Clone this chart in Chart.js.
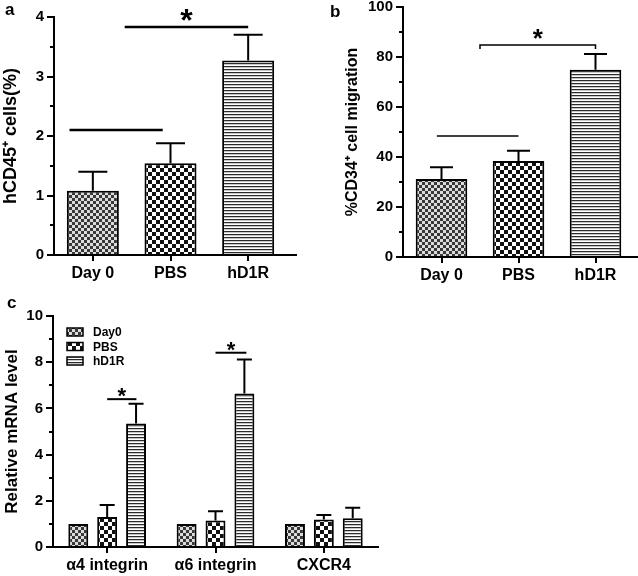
<!DOCTYPE html>
<html>
<head>
<meta charset="utf-8">
<script src="https://cdn.jsdelivr.net/npm/chart.js@4.4.0/dist/chart.umd.min.js"></script>
<style>
body{margin:0;background:#fff;width:638px;height:576px;position:relative;overflow:hidden}
canvas{position:absolute}
</style>
</head>
<body>
<canvas id="chartA" width="300" height="290" style="left:0;top:0"></canvas>
<canvas id="chartB" width="318" height="300" style="left:320px;top:-10px"></canvas>
<canvas id="chartC" width="390" height="286" style="left:0;top:290px"></canvas>
<script>
var groups = ['Day 0', 'PBS', 'hD1R'];
var cellsA = [1.08, 1.54, 3.27];
var cellsAErr = [0.32, 0.34, 0.43];
var migrB = [31.2, 38.4, 74.9];
var migrBErr = [4.7, 4.1, 6.3];

var genes = ['α4 integrin', 'α6 integrin', 'CXCR4'];
var seriesC = ['Day0', 'PBS', 'hD1R'];
var day0C = [1.0, 1.0, 1.0];
var day0CErr = [0, 0, 0];
var pbsC = [1.30, 1.15, 1.19];
var pbsCErr = [0.52, 0.40, 0.20];
var hd1rC = [5.35, 6.65, 1.24];
var hd1rCErr = [0.85, 1.47, 0.46];

// significance marks: [from category, to category, y value, star?, bracket?]
var sigA = [[0.41, 2.0, 3.83, 1, 0], [-0.3, 0.9, 2.1, 0, 0]];
var sigB = [[0.5, 2.0, 84.8, 1, 1], [-0.06, 1.0, 48.4, 0, 0]];
var sigC = [[0, 0.27, 6.4, 1, 0], [1, 1.285, 8.41, 1, 0]];

Chart.defaults.font.family = '"Liberation Sans", Arial, sans-serif';
Chart.defaults.font.weight = 'bold';
Chart.defaults.color = '#000';

function makePattern(kind) {
	var c = document.createElement('canvas');
	var g = c.getContext('2d');
	if (kind == 'fine') {
		c.width = 6; c.height = 6;
		g.fillStyle = '#dcdcdc'; g.fillRect(0, 0, 6, 6);
		g.fillStyle = '#383838'; g.fillRect(0, 0, 3, 3); g.fillRect(3, 3, 3, 3);
	} else if (kind == 'check') {
		c.width = 8; c.height = 8;
		g.fillStyle = '#fff'; g.fillRect(0, 0, 8, 8);
		g.fillStyle = '#111'; g.fillRect(0, 0, 4, 4); g.fillRect(4, 4, 4, 4);
	} else {
		c.width = 4; c.height = 3;
		g.fillStyle = '#fff'; g.fillRect(0, 0, 4, 3);
		g.fillStyle = '#2a2a2a'; g.fillRect(0, 0, 4, 1);
		g.fillStyle = '#c8c8c8'; g.fillRect(0, 1, 4, 1);
	}
	return g.createPattern(c, 'repeat');
}
var fills = [makePattern('fine'), makePattern('check'), makePattern('lines')];

var extras = {
	id: 'extras',
	afterDraw: function(chart, args, o) {
		var ctx = chart.ctx, x = chart.scales.x, y = chart.scales.y, area = chart.chartArea;
		var step = x.getPixelForValue(1) - x.getPixelForValue(0);
		function catX(f) { return x.getPixelForValue(0) + f * step; }
		ctx.save();
		ctx.strokeStyle = '#000';
		ctx.fillStyle = '#000';
		ctx.lineWidth = 2;
		// error bars
		chart.data.datasets.forEach(function(ds, d) {
			var meta = chart.getDatasetMeta(d);
			ds.err.forEach(function(e, i) {
				if (!e) return;
				var bar = meta.data[i];
				var top = y.getPixelForValue(ds.data[i] + e);
				ctx.beginPath();
				ctx.moveTo(bar.x, bar.y);
				ctx.lineTo(bar.x, top);
				ctx.moveTo(bar.x - o.cap / 2, top);
				ctx.lineTo(bar.x + o.cap / 2, top);
				ctx.stroke();
			});
		});
		// minor ticks
		for (var v = o.minor; v < y.max; v += o.minor * 2) {
			var py = Math.round(y.getPixelForValue(v));
			ctx.beginPath();
			ctx.moveTo(area.left - 4, py);
			ctx.lineTo(area.left, py);
			ctx.stroke();
		}
		// x axis runs a little further than the last category
		if (o.axisTo) {
			var y0 = y.getPixelForValue(0);
			ctx.beginPath();
			ctx.moveTo(area.right - 1, y0);
			ctx.lineTo(o.axisTo, y0);
			ctx.stroke();
		}
		// significance lines
		ctx.lineWidth = o.sigWidth;
		o.sig.forEach(function(s) {
			var x1 = catX(s[0]), x2 = catX(s[1]), yy = y.getPixelForValue(s[2]);
			ctx.beginPath();
			if (s[4]) {
				ctx.moveTo(x1, yy + 4);
				ctx.lineTo(x1, yy);
				ctx.lineTo(x2, yy);
				ctx.lineTo(x2, yy + 4);
			} else {
				ctx.moveTo(x1, yy);
				ctx.lineTo(x2, yy);
			}
			ctx.stroke();
			if (s[3]) {
				ctx.font = 'bold ' + o.starSize + 'px "Liberation Sans", Arial, sans-serif';
				ctx.textAlign = 'center';
				ctx.textBaseline = 'alphabetic';
				ctx.fillText('*', (x1 + x2) / 2, yy + o.starDy);
			}
		});
		// legend
		if (o.legend) {
			ctx.lineWidth = 1.5;
			ctx.font = 'bold 12px "Liberation Sans", Arial, sans-serif';
			ctx.textAlign = 'left';
			ctx.textBaseline = 'middle';
			chart.data.datasets.forEach(function(ds, d) {
				var ly = o.legend.y + d * o.legend.gap;
				ctx.fillStyle = ds.backgroundColor;
				ctx.fillRect(o.legend.x, ly - 4, 16, 8);
				ctx.strokeRect(o.legend.x, ly - 4, 16, 8);
				ctx.fillStyle = '#000';
				ctx.fillText(ds.label, o.legend.x + 26, ly + 1);
			});
		}
		// panel letter
		ctx.font = 'bold 17px "Liberation Sans", Arial, sans-serif';
		ctx.textAlign = 'left';
		ctx.textBaseline = 'alphabetic';
		ctx.fillStyle = '#000';
		ctx.fillText(o.letter[0], o.letter[1], o.letter[2]);
		ctx.restore();
	}
};

function barChart(id, labels, datasets, s) {
	return new Chart(document.getElementById(id), {
		type: 'bar',
		data: { labels: labels, datasets: datasets },
		options: {
			responsive: false,
			animation: false,
			devicePixelRatio: 1,
			layout: { padding: s.padding },
			datasets: { bar: { barPercentage: s.barPct, categoryPercentage: s.catPct, borderColor: '#000', borderWidth: 2 } },
			plugins: { legend: { display: false }, tooltip: { enabled: false }, extras: s.extras },
			scales: {
				x: {
					grid: { display: true, drawOnChartArea: false, drawTicks: true, offset: false, tickLength: 6, color: '#000', lineWidth: 2 },
					border: { display: true, color: '#000', width: 2 },
					ticks: { font: { size: 16, weight: 'bold' }, color: '#000', padding: 3, maxRotation: 0, autoSkip: false },
					afterFit: function(sc) { sc.height = s.axisH; }
				},
				y: {
					min: 0, max: s.yMax,
					grid: { display: true, drawOnChartArea: false, drawTicks: true, tickLength: 7, color: '#000', lineWidth: 2 },
					border: { display: true, color: '#000', width: 2 },
					ticks: { stepSize: s.step, font: { size: 15, weight: 'bold' }, color: '#000', padding: 3 },
					title: { display: true, text: s.title, font: { size: s.titleSize, weight: 'bold' }, color: '#000', padding: { top: s.titlePad, bottom: 0 } },
					afterFit: function(sc) { sc.width = s.axisW; }
				}
			}
		},
		plugins: [extras]
	});
}

barChart('chartA', groups, [
	{ label: 'hCD45', data: cellsA, err: cellsAErr, backgroundColor: fills }
], {
	padding: { top: 17, right: 13, left: 0, bottom: 0 }, axisW: 54, axisH: 35,
	barPct: 0.67, catPct: 1, yMax: 4, step: 1,
	title: 'hCD45⁺ cells(%)', titleSize: 18, titlePad: 0,
	extras: { cap: 29, minor: 0.5, axisTo: 297, sig: sigA, sigWidth: 2.5, starSize: 32, starDy: 4, letter: ['a', 5, 15] }
});

barChart('chartB', groups, [
	{ label: 'CD34', data: migrB, err: migrBErr, backgroundColor: fills }
], {
	padding: { top: 17, right: 4, left: 0, bottom: 0 }, axisW: 83, axisH: 33,
	barPct: 0.67, catPct: 1, yMax: 100, step: 20,
	title: '%CD34⁺ cell migration', titleSize: 16, titlePad: 23,
	extras: { cap: 23, minor: 10, axisTo: 318, sig: sigB, sigWidth: 1.5, starSize: 26, starDy: 2, letter: ['b', 10, 27] }
});

barChart('chartC', genes, [
	{ label: seriesC[0], data: day0C, err: day0CErr, backgroundColor: fills[0] },
	{ label: seriesC[1], data: pbsC, err: pbsCErr, backgroundColor: fills[1] },
	{ label: seriesC[2], data: hd1rC, err: hd1rCErr, backgroundColor: fills[2] }
], {
	padding: { top: 26, right: 12, left: 0, bottom: 0 }, axisW: 53, axisH: 29,
	barPct: 0.69, catPct: 0.8, yMax: 10, step: 2,
	title: 'Relative mRNA level', titleSize: 17, titlePad: 2,
	extras: { cap: 15, minor: 1, axisTo: 0, sig: sigC, sigWidth: 2, starSize: 22, starDy: 4, letter: ['c', 7, 18],
		legend: { x: 67, y: 42, gap: 14.5 } }
});
</script>
</body>
</html>
